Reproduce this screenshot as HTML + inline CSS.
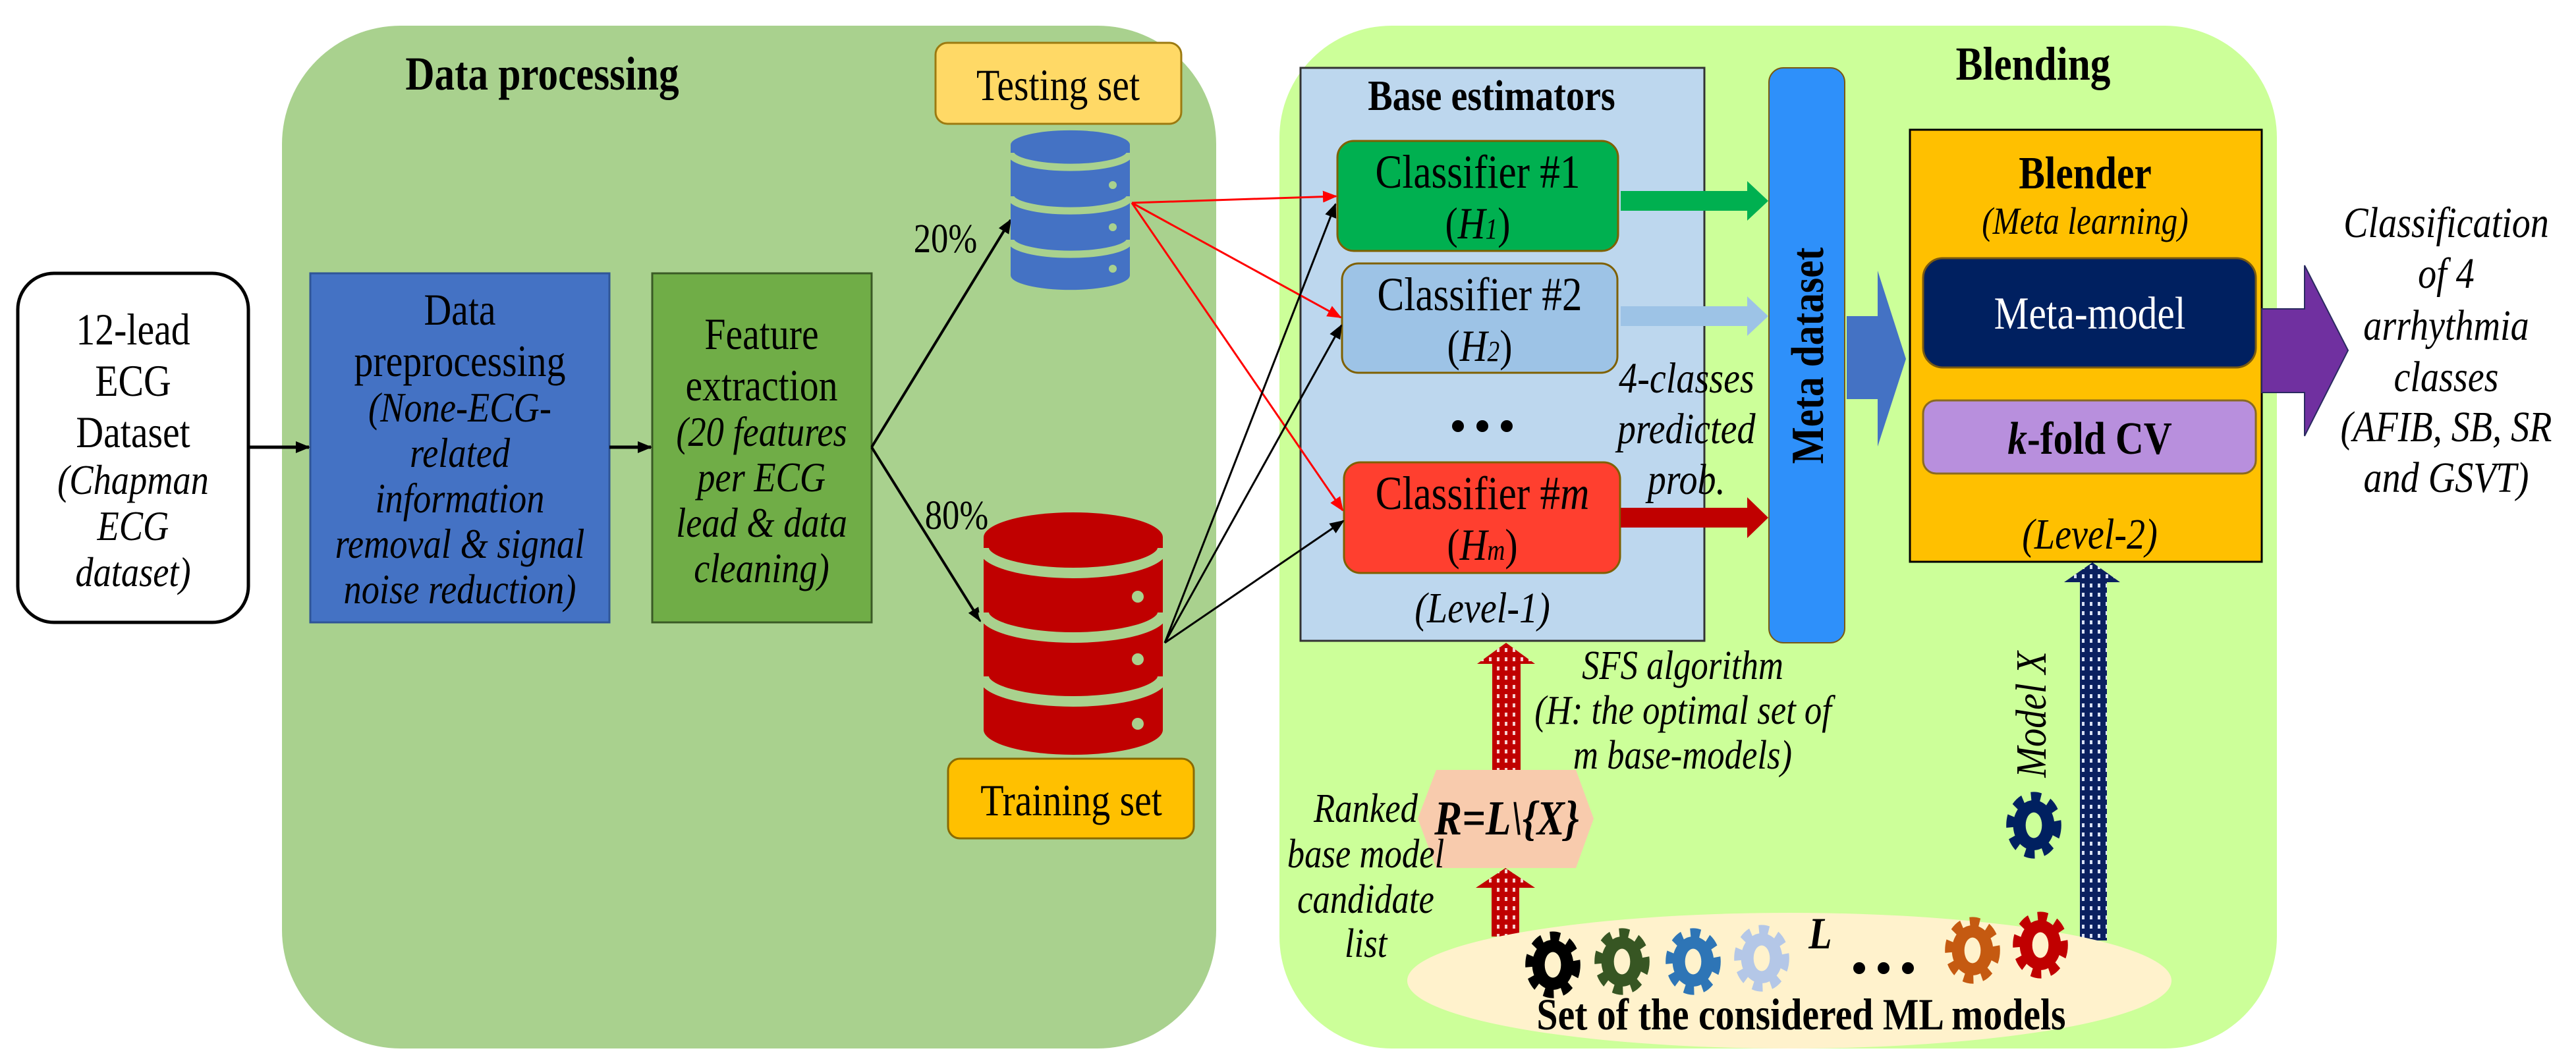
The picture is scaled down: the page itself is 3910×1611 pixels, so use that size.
<!DOCTYPE html>
<html><head><meta charset="utf-8"><style>
html,body{margin:0;padding:0;background:#fff;}
svg{display:block;}
svg text{font-family:"Liberation Serif","Times New Roman",serif;transform-box:fill-box;transform-origin:center;transform:scaleX(0.85);}
</style></head><body>
<svg width="3910" height="1611" viewBox="0 0 3910 1611" xmlns="http://www.w3.org/2000/svg" font-family="Liberation Serif, serif">
<defs>
<marker id="akb" markerWidth="22" markerHeight="22" refX="20" refY="11" orient="auto" markerUnits="userSpaceOnUse" viewBox="0 0 22 22"><path d="M0,2 L22,11 L0,20 z" fill="#000"/></marker>
<marker id="ar" markerWidth="22" markerHeight="22" refX="20" refY="11" orient="auto" markerUnits="userSpaceOnUse" viewBox="0 0 22 22"><path d="M0,2 L22,11 L0,20 z" fill="#f00"/></marker>
<pattern id="pr" width="12" height="14" patternUnits="userSpaceOnUse"><rect width="12" height="14" fill="#c00000"/><rect x="4" y="4" width="4" height="6" fill="#f6d0d0"/></pattern>
<pattern id="pb" width="12" height="14" patternUnits="userSpaceOnUse"><rect width="12" height="14" fill="#0a2060"/><rect x="4" y="4" width="4" height="6" fill="#d8e0f4"/></pattern>
<g id="gear">
<circle r="34" fill="none" stroke="currentColor" stroke-width="20" stroke-dasharray="14 12"/>
<circle r="33" fill="currentColor"/>
<ellipse rx="13" ry="17" fill="#fff2cc"/>
</g>
</defs>

<rect x="428" y="39" width="1418" height="1553" rx="180" fill="#a9d18e"/>
<rect x="1942" y="39" width="1514" height="1553" rx="170" fill="#ccff99"/>

<text x="823" y="136" font-size="72" font-weight="bold" text-anchor="middle">Data processing</text>
<text x="3086" y="121" font-size="72" font-weight="bold" text-anchor="middle">Blending</text>

<rect x="27" y="415" width="350" height="530" rx="55" fill="#fff" stroke="#000" stroke-width="5"/>
<g font-size="68" text-anchor="middle">
<text x="202" y="523">12-lead</text>
<text x="202" y="601">ECG</text>
<text x="202" y="679">Dataset</text>
<g font-style="italic" font-size="64"><text x="202" y="750">(Chapman</text><text x="202" y="820">ECG</text><text x="202" y="890">dataset)</text></g>
</g>

<rect x="471" y="415" width="454" height="530" fill="#4472c4" stroke="#2f5597" stroke-width="3"/>
<g font-size="68" text-anchor="middle">
<text x="698" y="493">Data</text>
<text x="698" y="571">preprocessing</text>
<g font-style="italic" font-size="64"><text x="698" y="640">(None-ECG-</text><text x="698" y="709">related</text><text x="698" y="778">information</text><text x="698" y="847">removal &amp; signal</text><text x="698" y="916">noise reduction)</text></g>
</g>

<rect x="990" y="415" width="333" height="530" fill="#70ad47" stroke="#3a5a25" stroke-width="3"/>
<g font-size="68" text-anchor="middle">
<text x="1156" y="530">Feature</text>
<text x="1156" y="608">extraction</text>
<g font-style="italic" font-size="64"><text x="1156" y="677">(20 features</text><text x="1156" y="746">per ECG</text><text x="1156" y="815">lead &amp; data</text><text x="1156" y="884">cleaning)</text></g>
</g>

<line x1="377" y1="679" x2="469" y2="679" stroke="#000" stroke-width="5" marker-end="url(#akb)"/>
<line x1="925" y1="679" x2="988" y2="679" stroke="#000" stroke-width="5" marker-end="url(#akb)"/>
<line x1="1323" y1="679" x2="1534" y2="334" stroke="#000" stroke-width="4" marker-end="url(#akb)"/>
<line x1="1323" y1="679" x2="1488" y2="943" stroke="#000" stroke-width="4" marker-end="url(#akb)"/>
<text x="1435" y="383" font-size="62" text-anchor="middle">20%</text>
<text x="1452" y="803" font-size="62" text-anchor="middle">80%</text>

<rect x="1420" y="65" width="373" height="123" rx="18" fill="#ffd966" stroke="#9c7a10" stroke-width="3"/>
<text x="1606" y="152" font-size="68" text-anchor="middle">Testing set</text>
<path d="M1534,220 A90,22 0 0 1 1715,220 L1715,418 A90,22 0 0 1 1534,418 Z" fill="#4472c4"/>
<g fill="none" stroke="#a9d18e" stroke-width="11">
<path d="M1534,232 A90,22 0 0 0 1715,232"/>
<path d="M1534,298 A90,22 0 0 0 1715,298"/>
<path d="M1534,364 A90,22 0 0 0 1715,364"/>
</g>
<g fill="#a9d18e"><circle cx="1689" cy="281" r="6"/><circle cx="1689" cy="345" r="6"/><circle cx="1689" cy="408" r="6"/></g>

<path d="M1493,816 A136,38 0 0 1 1765,816 L1765,1108 A136,38 0 0 1 1493,1108 Z" fill="#c00000"/>
<g fill="none" stroke="#a9d18e" stroke-width="16">
<path d="M1493,832 A136,38 0 0 0 1765,832"/>
<path d="M1493,930 A136,38 0 0 0 1765,930"/>
<path d="M1493,1027 A136,38 0 0 0 1765,1027"/>
</g>
<g fill="#a9d18e"><circle cx="1727" cy="906" r="9"/><circle cx="1727" cy="1001" r="9"/><circle cx="1727" cy="1099" r="9"/></g>

<rect x="1439" y="1152" width="373" height="121" rx="18" fill="#ffc000" stroke="#8a6a00" stroke-width="3"/>
<text x="1626" y="1238" font-size="68" text-anchor="middle">Training set</text>

<rect x="1974" y="103" width="613" height="870" fill="#bdd7ee" stroke="#333" stroke-width="3"/>
<text x="2264" y="167" font-size="66" font-weight="bold" text-anchor="middle">Base estimators</text>

<rect x="2030" y="214" width="426" height="167" rx="25" fill="#00b050" stroke="#7f6000" stroke-width="3"/>
<text x="2243" y="285" font-size="72" text-anchor="middle">Classifier #1</text>
<text x="2243" y="362" font-size="68" text-anchor="middle">(<tspan font-style="italic">H<tspan font-size="44">1</tspan></tspan>)</text>

<rect x="2037" y="400" width="418" height="166" rx="25" fill="#9dc3e6" stroke="#7f6000" stroke-width="3"/>
<text x="2246" y="471" font-size="72" text-anchor="middle">Classifier #2</text>
<text x="2246" y="548" font-size="68" text-anchor="middle">(<tspan font-style="italic">H<tspan font-size="44">2</tspan></tspan>)</text>

<g fill="#000"><circle cx="2213" cy="647" r="9"/><circle cx="2250" cy="647" r="9"/><circle cx="2287" cy="647" r="9"/></g>

<rect x="2040" y="702" width="419" height="168" rx="25" fill="#ff3f2f" stroke="#7f6000" stroke-width="3"/>
<text x="2250" y="773" font-size="72" text-anchor="middle">Classifier #<tspan font-style="italic">m</tspan></text>
<text x="2250" y="850" font-size="68" text-anchor="middle">(<tspan font-style="italic">H<tspan font-size="44">m</tspan></tspan>)</text>
<text x="2250" y="945" font-size="66" font-style="italic" text-anchor="middle">(Level-1)</text>

<g stroke="#f00" stroke-width="3" fill="none">
<line x1="1718" y1="308" x2="2028" y2="298" marker-end="url(#ar)"/>
<line x1="1718" y1="308" x2="2035" y2="482" marker-end="url(#ar)"/>
<line x1="1718" y1="308" x2="2038" y2="775" marker-end="url(#ar)"/>
</g>
<g stroke="#000" stroke-width="3" fill="none">
<line x1="1768" y1="976" x2="2027" y2="310" marker-end="url(#akb)"/>
<line x1="1768" y1="976" x2="2036" y2="494" marker-end="url(#akb)"/>
<line x1="1768" y1="976" x2="2039" y2="791" marker-end="url(#akb)"/>
</g>

<path d="M2460,290 L2652,290 L2652,275 L2684,305 L2652,335 L2652,320 L2460,320 Z" fill="#00b050"/>
<path d="M2460,465 L2652,465 L2652,450 L2684,480 L2652,510 L2652,495 L2460,495 Z" fill="#9dc3e6"/>
<path d="M2460,771 L2652,771 L2652,755 L2684,786 L2652,817 L2652,801 L2460,801 Z" fill="#c00000"/>

<rect x="2685" y="103" width="115" height="873" rx="22" fill="#2e90fa" stroke="#7a5a10" stroke-width="2"/>
<g transform="translate(2767,540) rotate(-90)"><text x="0" y="0" font-size="70" font-weight="bold" text-anchor="middle">Meta dataset</text></g>

<g font-size="66" font-style="italic" text-anchor="middle">
<text x="2560" y="596">4-classes</text>
<text x="2560" y="673">predicted</text>
<text x="2560" y="750">prob.</text>
</g>

<path d="M2803,480 L2850,480 L2850,411 L2893,545 L2850,678 L2850,606 L2803,606 Z" fill="#4472c4"/>

<rect x="2899" y="197" width="534" height="656" fill="#ffc000" stroke="#000" stroke-width="3"/>
<text x="3165" y="286" font-size="70" font-weight="bold" text-anchor="middle">Blender</text>
<text x="3165" y="355" font-size="58" font-style="italic" text-anchor="middle">(Meta learning)</text>
<rect x="2919" y="392" width="505" height="166" rx="30" fill="#002060" stroke="#7a5a10" stroke-width="3"/>
<text x="3172" y="499" font-size="70" fill="#fff" text-anchor="middle">Meta-model</text>
<rect x="2919" y="608" width="505" height="111" rx="20" fill="#b88fdd" stroke="#8a6a20" stroke-width="3"/>
<text x="3172" y="689" font-size="70" font-weight="bold" text-anchor="middle"><tspan font-style="italic">k</tspan>-fold CV</text>
<text x="3172" y="833" font-size="66" font-style="italic" text-anchor="middle">(Level-2)</text>

<path d="M3433,469 L3498,469 L3498,403 L3564,532 L3498,662 L3498,596 L3433,596 Z" fill="#7030a0" stroke="#2a2a60" stroke-width="2"/>

<g font-size="66" font-style="italic" text-anchor="middle">
<text x="3713" y="360">Classification</text>
<text x="3713" y="437">of 4</text>
<text x="3713" y="516">arrhythmia</text>
<text x="3713" y="594">classes</text>
<text x="3713" y="670">(AFIB, SB, SR</text>
<text x="3713" y="747">and GSVT)</text>
</g>

<path d="M2265,1169 L2265,1008 L2242,1008 L2286,976 L2330,1008 L2308,1008 L2308,1169 Z" fill="url(#pr)"/>
<path d="M2264,1422 L2264,1348 L2240,1348 L2285,1318 L2330,1348 L2306,1348 L2306,1422 Z" fill="url(#pr)"/>
<polygon points="2180,1169 2392,1169 2419,1243 2392,1318 2180,1318 2152,1243" fill="#f8cbad"/>
<text x="2287" y="1267" font-size="74" font-weight="bold" font-style="italic" text-anchor="middle">R=L\{X}</text>

<g font-size="62" font-style="italic" text-anchor="middle">
<text x="2073" y="1248">Ranked</text>
<text x="2073" y="1317">base model</text>
<text x="2073" y="1386">candidate</text>
<text x="2073" y="1453">list</text>
<text x="2554" y="1031">SFS algorithm</text>
<text x="2554" y="1099">(H: the optimal set of</text>
<text x="2554" y="1167">m base-models)</text>
</g>

<path d="M3157,1428 L3157,884 L3133,884 L3176,854 L3218,884 L3198,884 L3198,1428 Z" fill="url(#pb)"/>
<g transform="translate(3105,1085) rotate(-90)"><text x="0" y="0" font-size="66" font-style="italic" text-anchor="middle">Model X</text></g>
<g transform="translate(3087,1253) scale(0.95,1.15)"><circle r="34" fill="none" stroke="#002060" stroke-width="20" stroke-dasharray="14 12"/><circle r="33" fill="#002060"/><ellipse rx="13" ry="17" fill="#ccff99"/></g>

<ellipse cx="2716" cy="1489" rx="580" ry="103" fill="#fff2cc"/>
<g transform="translate(2357,1465) scale(0.95,1.15)" style="color:#000"><use href="#gear"/></g>
<g transform="translate(2462,1460) scale(0.95,1.15)" style="color:#375623"><use href="#gear"/></g>
<g transform="translate(2570,1460) scale(0.95,1.15)" style="color:#2e75b6"><use href="#gear"/></g>
<g transform="translate(2674,1455) scale(0.95,1.15)" style="color:#b4c7e7"><use href="#gear"/></g>
<g transform="translate(2994,1443) scale(0.95,1.15)" style="color:#c55a11"><use href="#gear"/></g>
<g transform="translate(3097,1435) scale(0.95,1.15)" style="color:#c00000"><use href="#gear"/></g>
<text x="2763" y="1440" font-size="68" font-weight="bold" font-style="italic" text-anchor="middle">L</text>
<g fill="#000"><circle cx="2822" cy="1470" r="9"/><circle cx="2859" cy="1470" r="9"/><circle cx="2896" cy="1470" r="9"/></g>
<text x="2734" y="1563" font-size="68" font-weight="bold" text-anchor="middle">Set of the considered ML models</text>
</svg>
</body></html>
